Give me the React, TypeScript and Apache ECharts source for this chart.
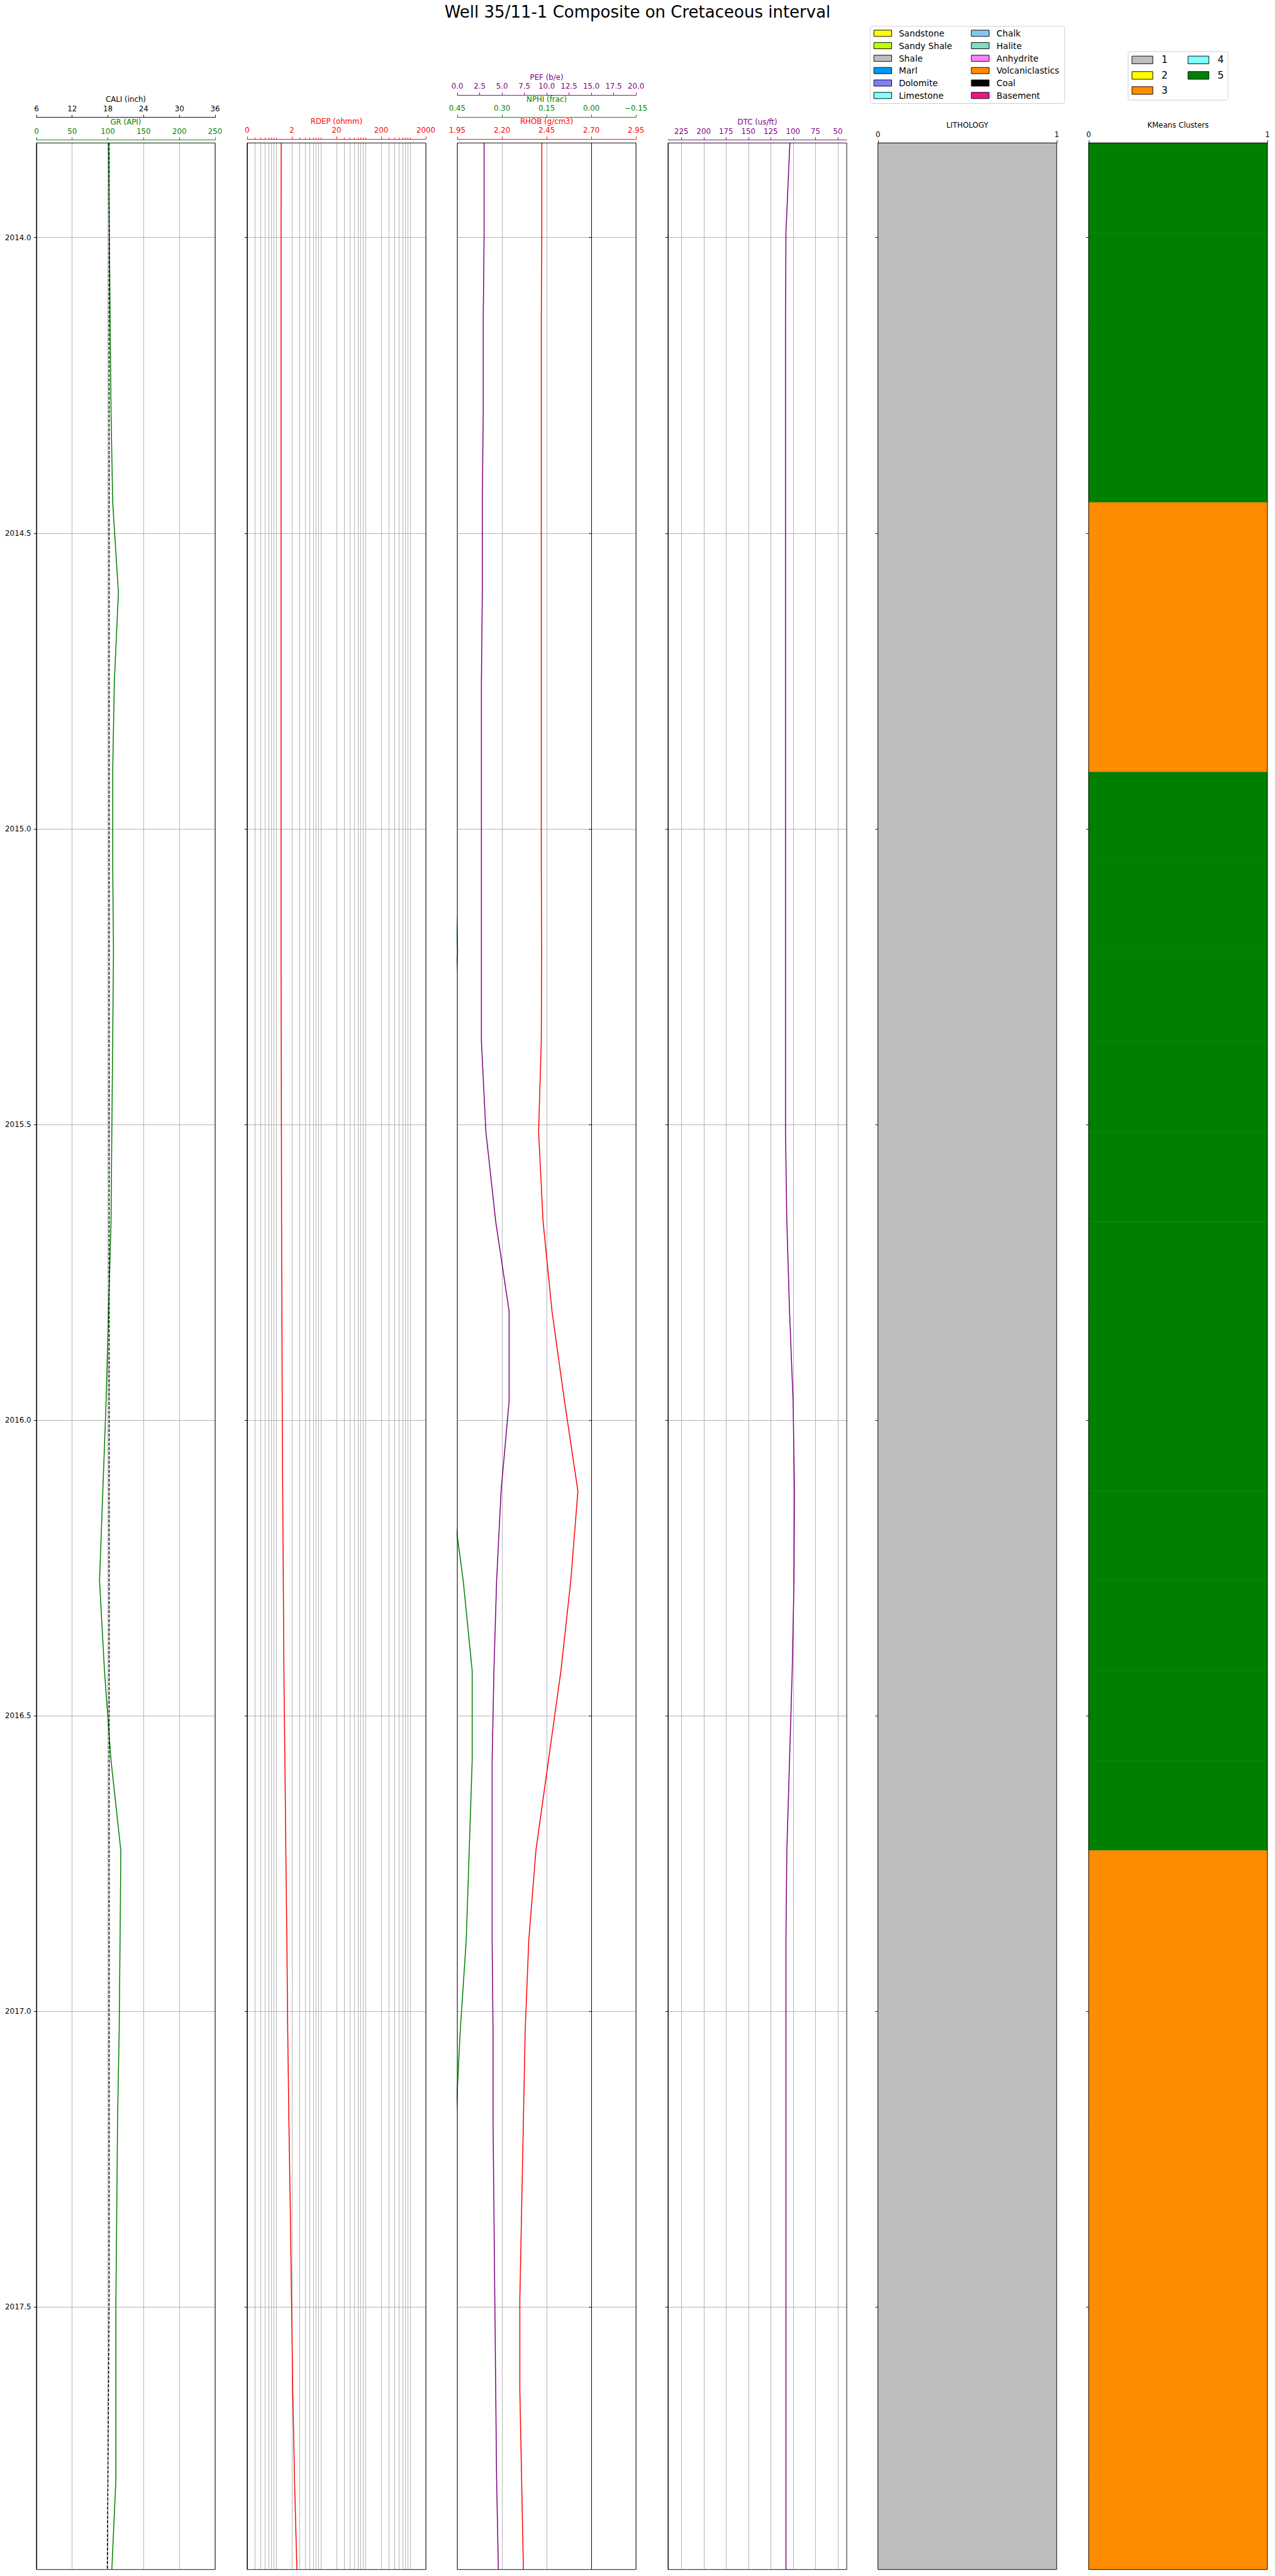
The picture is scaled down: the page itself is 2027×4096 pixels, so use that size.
import React, { useEffect, useRef } from "react";
import * as echarts from "echarts";

// ---------------- DATA ----------------
const DEPTH = [
  2013.84, 2013.992, 2014.144, 2014.296, 2014.448, 2014.6, 2014.752, 2014.904,
  2015.056, 2015.208, 2015.36, 2015.512, 2015.664, 2015.816, 2015.968, 2016.12,
  2016.272, 2016.424, 2016.576, 2016.728, 2016.88, 2017.032, 2017.184, 2017.336,
  2017.488, 2017.64, 2017.792, 2017.944,
];
const GR = [
  100.9, 102.0, 103.2, 104.4, 106.7, 114.7, 109.0, 106.7, 106.7, 107.8, 106.7, 105.5,
  104.4, 100.9, 97.5, 92.9, 88.3, 95.2, 104.4, 118.1, 117.0, 115.8, 113.5, 112.4,
  111.2, 111.2, 111.2, 105.5,
];
const CALI = [
  18.2, 18.2, 18.2, 18.2, 18.2, 18.2, 18.2, 18.2, 18.2, 18.2, 18.2, 18.2,
  18.2, 18.2, 18.2, 18.2, 18.2, 18.2, 18.2, 18.2, 18.2, 18.2, 18.2, 18.2,
  18.2, 18.1, 18.0, 17.9,
];
const RDEP = [
  1.16, 1.15, 1.15, 1.15, 1.15, 1.15, 1.15, 1.15, 1.15, 1.15, 1.16, 1.17,
  1.18, 1.2, 1.22, 1.25, 1.29, 1.33, 1.4, 1.47, 1.55, 1.62, 1.72, 1.85,
  1.97, 2.1, 2.3, 2.6,
];
const RHOB = [
  2.423, 2.423, 2.42, 2.42, 2.42, 2.42, 2.42, 2.42, 2.42, 2.422, 2.42, 2.405,
  2.43, 2.48, 2.55, 2.625, 2.585, 2.53, 2.46, 2.39, 2.35, 2.33, 2.32, 2.31,
  2.3, 2.3, 2.31, 2.32,
];
const NPHI = [
  0.48, 0.48, 0.48, 0.48, 0.48, 0.48, 0.48, 0.47, 0.46, 0.449, 0.47, 0.48,
  0.48, 0.48, 0.48, 0.47, 0.43, 0.4, 0.4, 0.41, 0.42, 0.44, 0.455, 0.47,
  0.48, 0.48, 0.48, 0.48,
];
const PEF = [
  3.0, 3.0, 2.9, 2.9, 2.8, 2.8, 2.7, 2.7, 2.7, 2.7, 2.7, 3.2,
  4.3, 5.8, 5.8, 4.9, 4.4, 4.1, 3.9, 3.9, 3.9, 4.0, 4.0, 4.1,
  4.2, 4.3, 4.4, 4.6,
];
const DTC = [
  103.6, 108.0, 108.5, 108.5, 108.5, 108.5, 108.5, 108.5, 108.5, 108.5, 108.5, 108.5,
  107.0, 104.0, 100.0, 98.5, 99.0, 101.0, 104.0, 107.0, 108.0, 108.0, 108.0, 108.0,
  108.0, 108.0, 108.0, 108.0,
];
const LITHOLOGY = [
  "Shale", "Shale", "Shale", "Shale", "Shale", "Shale", "Shale", "Shale",
  "Shale", "Shale", "Shale", "Shale", "Shale", "Shale", "Shale", "Shale",
  "Shale", "Shale", "Shale", "Shale", "Shale", "Shale", "Shale", "Shale",
  "Shale", "Shale", "Shale", "Shale",
];
const KMEANS = [
  5, 5, 5, 5, 3, 3, 3, 5, 5, 5, 5, 5, 5, 5, 5, 5, 5, 5, 5, 3, 3, 3, 3, 3, 3, 3, 3, 3,
];

const DEPTH_TICKS = [2014.0, 2014.5, 2015.0, 2015.5, 2016.0, 2016.5, 2017.0, 2017.5];
const GR_TICKS = [0, 50, 100, 150, 200, 250];
const CALI_TICKS = [6, 12, 18, 24, 30, 36];
const RDEP_TICKS = [0.2, 2, 20, 200, 2000];
const RHOB_TICKS = [1.95, 2.2, 2.45, 2.7, 2.95];
const NPHI_TICKS = [0.45, 0.3, 0.15, 0, -0.15];
const PEF_TICKS = [0, 2.5, 5, 7.5, 10, 12.5, 15, 17.5, 20];
const DTC_TICKS = [225, 200, 175, 150, 125, 100, 75, 50];
const UNIT_TICKS = [0, 1];

const LITH_NAMES = [
  "Sandstone", "Sandy Shale", "Shale", "Marl", "Dolomite", "Limestone",
  "Chalk", "Halite", "Anhydrite", "Volcaniclastics", "Coal", "Basement",
];
const LITH_COLORS = [
  "#ffff00", "#c0ff00", "#bebebe", "#0099ee", "#8080ff", "#80ffff",
  "#80c8f0", "#7ddfbe", "#ff80ff", "#ff8c00", "#000000", "#ef138a",
];
const CLUSTER_NAMES = ["1", "2", "3", "4", "5"];
const CLUSTER_COLORS = ["#bebebe", "#ffff00", "#ff8c00", "#80ffff", "#008000"];

// ---------------- LAYOUT ----------------
const FONT = "DejaVu Sans";
const TRACK_LEFT = [57.9, 392.9, 727.0, 1062.0, 1395.8, 1730.8];
const TRACK_W = 284.1;
const TOP = 227.3;
const HEIGHT = 3858.4;
const FS = 11.8;
const GRID_GRAY = "#b0b0b0";
const GREEN = "#008000";
const RED = "#ff0000";
const PURPLE = "#800080";

function fmtNphi(v: number) {
  const r = Math.abs(v) < 1e-9 ? 0 : v;
  const s = r.toFixed(2);
  return s.replace("-", "\u2212");
}

function topAxis(grid: number, o: any) {
  const color = o.color;
  return {
    type: o.type || "value",
    gridIndex: grid,
    position: "top",
    offset: o.offset,
    min: o.min,
    max: o.max,
    inverse: !!o.inverse,
    logBase: o.logBase,
    name: o.name,
    nameLocation: "middle",
    nameGap: 22.3,
    nameMoveOverlap: false,
    nameTextStyle: { color, fontFamily: FONT, fontSize: FS },
    axisLine: { show: o.line !== false, lineStyle: { color, width: 0.94 } },
    axisTick: {
      show: true,
      customValues: o.ticks,
      length: o.tickLen || 4.1,
      lineStyle: { color, width: 0.94 },
    },
    axisLabel: {
      show: o.labels !== false,
      customValues: o.ticks,
      margin: 7.8,
      color,
      fontFamily: FONT,
      fontSize: FS,
      formatter: o.fmt,
    },
    splitLine: {
      show: !!o.split,
      lineStyle: { color: GRID_GRAY, width: 0.94 },
    },
  };
}

export default function App() {
  const ref = useRef<HTMLDivElement>(null);
  useEffect(() => {
    if (!ref.current) return;
    const chart = echarts.init(ref.current, undefined, { renderer: "svg" });

    const grids = TRACK_LEFT.map((l) => ({
      left: l,
      top: TOP,
      width: TRACK_W,
      height: HEIGHT,
      show: true,
      z: 10,
      backgroundColor: "transparent",
      borderColor: "#000",
      borderWidth: 0.94,
    }));

    const yAxes = TRACK_LEFT.map((_, i) => ({
      type: "value",
      gridIndex: i,
      inverse: true,
      min: DEPTH[0],
      max: DEPTH[DEPTH.length - 1],
      axisLine: { show: true, lineStyle: { color: "#000", width: 0.94 } },
      axisTick: { show: true, customValues: DEPTH_TICKS, length: 4.1, lineStyle: { color: "#000", width: 0.94 } },
      axisLabel: {
        show: i === 0,
        customValues: DEPTH_TICKS,
        margin: 8.5,
        color: "#000",
        fontFamily: FONT,
        fontSize: FS,
        formatter: (v: number) => v.toFixed(1),
      },
      splitLine: { show: i < 4, lineStyle: { color: GRID_GRAY, width: 0.94 } },
    }));

    const minorRdep: number[] = [];
    [0.1, 1, 10, 100].forEach((dec) => {
      for (let m = 3; m <= 9; m++) minorRdep.push(+(m * dec).toPrecision(3));
    });

    const xAxes = [
      topAxis(0, { name: "GR (API)", color: GREEN, offset: 4.9, min: 0, max: 250, ticks: GR_TICKS, split: true, fmt: (v: number) => String(v) }),
      topAxis(0, { name: "CALI (inch)", color: "#000", offset: 40.7, min: 6, max: 36, ticks: CALI_TICKS, fmt: (v: number) => String(v) }),
      topAxis(1, {
        type: "log", logBase: 10, name: "RDEP (ohmm)", color: RED, offset: 6.2, min: 0.2, max: 2000,
        ticks: RDEP_TICKS, split: true,
        fmt: (v: number) => (v < 1 ? "0" : String(Math.round(v))),
      }),
      topAxis(1, {
        type: "log", logBase: 10, color: RED, offset: 6.2, min: 0.2, max: 2000,
        ticks: minorRdep, split: true, line: false, labels: false, tickLen: 2.4,
      }),
      topAxis(2, { name: "RHOB (g/cm3)", color: RED, offset: 6.2, min: 1.95, max: 2.95, ticks: RHOB_TICKS, split: true, fmt: (v: number) => v.toFixed(2) }),
      topAxis(2, { name: "NPHI (frac)", color: GREEN, offset: 41.3, min: -0.15, max: 0.45, inverse: true, ticks: NPHI_TICKS, fmt: fmtNphi }),
      topAxis(2, { name: "PEF (b/e)", color: PURPLE, offset: 76.1, min: 0, max: 20, ticks: PEF_TICKS, fmt: (v: number) => v.toFixed(1) }),
      topAxis(3, { name: "DTC (us/ft)", color: PURPLE, offset: 4.9, min: 40, max: 240, inverse: true, ticks: DTC_TICKS, split: true, fmt: (v: number) => String(v) }),
      topAxis(4, { name: "LITHOLOGY", color: "#000", offset: 0, min: 0, max: 1, ticks: UNIT_TICKS, fmt: (v: number) => String(v) }),
      topAxis(5, { name: "KMeans Clusters", color: "#000", offset: 0, min: 0, max: 1, ticks: UNIT_TICKS, fmt: (v: number) => String(v) }),
    ];

    const curve = (xi: number, yi: number, vals: number[], color: string, dashed?: boolean) => ({
      type: "line",
      xAxisIndex: xi,
      yAxisIndex: yi,
      data: vals.map((v, i) => [v, DEPTH[i]]),
      showSymbol: false,
      symbol: "none",
      clip: true,
      silent: true,
      lineStyle: { color, width: 1.5, type: dashed ? [5, 2.2] : "solid" },
      z: 3,
    });

    const blocks = (xi: number, yi: number, colorOf: (i: number) => string) => ({
      type: "custom",
      xAxisIndex: xi,
      yAxisIndex: yi,
      silent: true,
      data: DEPTH.slice(0, -1).map((d, i) => [0, d, DEPTH[i + 1], i]),
      encode: { x: 0, y: [1, 2] },
      renderItem: (params: any, api: any) => {
        const p0 = api.coord([0, api.value(1)]);
        const p1 = api.coord([1, api.value(2)]);
        const c = colorOf(api.value(3));
        return {
          type: "rect",
          shape: { x: p0[0], y: p0[1], width: p1[0] - p0[0], height: p1[1] - p0[1] },
          style: { fill: c, stroke: c, lineWidth: 0.6 },
        };
      },
      z: 2,
    });

    const lithColor = (i: number) => LITH_COLORS[LITH_NAMES.indexOf(LITHOLOGY[i])];
    const clusterColor = (i: number) => CLUSTER_COLORS[KMEANS[i] - 1];

    const graphics: any[] = [];
    graphics.push({
      type: "text",
      x: 1013.5,
      y: 18.7,
      style: {
        text: "Well 35/11-1 Composite on Cretaceous interval",
        fontFamily: FONT,
        fontSize: 26.0,
        fill: "#000",
        align: "center",
        verticalAlign: "middle",
      },
    });
    graphics.push({
      type: "rect",
      shape: { x: 1383.7, y: 41.8, width: 308.9, height: 122.7, r: 3 },
      style: { fill: "rgba(255,255,255,0.8)", stroke: "#cccccc", lineWidth: 0.94 },
    });
    const lithRowY = [52.9, 72.6, 92.7, 112.2, 132.0, 151.8];
    LITH_NAMES.forEach((n, i) => {
      const col = Math.floor(i / 6);
      const row = i % 6;
      const px = col === 0 ? 1389.3 : 1544.2;
      const tx = col === 0 ? 1428.9 : 1584.3;
      graphics.push({
        type: "rect",
        shape: { x: px, y: lithRowY[row] - 4.95, width: 28.3, height: 9.9 },
        style: { fill: LITH_COLORS[i], stroke: "#000", lineWidth: 0.94 },
      });
      graphics.push({
        type: "text",
        x: tx,
        y: lithRowY[row],
        style: { text: n, fontFamily: FONT, fontSize: 13.7, fill: "#000", verticalAlign: "middle" },
      });
    });
    graphics.push({
      type: "rect",
      shape: { x: 1793.5, y: 82.0, width: 158.6, height: 77.2, r: 3 },
      style: { fill: "rgba(255,255,255,0.8)", stroke: "#cccccc", lineWidth: 0.94 },
    });
    const cRowY = [95.3, 119.9, 143.9];
    CLUSTER_NAMES.forEach((n, i) => {
      const col = i < 3 ? 0 : 1;
      const row = i < 3 ? i : i - 3;
      const px = col === 0 ? 1799.7 : 1888.8;
      const tx = col === 0 ? 1846.4 : 1935.7;
      graphics.push({
        type: "rect",
        shape: { x: px, y: cRowY[row] - 6.1, width: 33.1, height: 12.2 },
        style: { fill: CLUSTER_COLORS[i], stroke: "#000", lineWidth: 0.94 },
      });
      graphics.push({
        type: "text",
        x: tx,
        y: cRowY[row],
        style: { text: n, fontFamily: FONT, fontSize: 15.5, fill: "#000", verticalAlign: "middle" },
      });
    });

    chart.setOption({
      animation: false,
      textStyle: { fontFamily: FONT },
      grid: grids,
      xAxis: xAxes,
      yAxis: yAxes,
      series: [
        curve(0, 0, GR, GREEN),
        curve(1, 0, CALI, "#000", true),
        curve(2, 1, RDEP, RED),
        curve(4, 2, RHOB, RED),
        curve(5, 2, NPHI, GREEN),
        curve(6, 2, PEF, PURPLE),
        curve(7, 3, DTC, PURPLE),
        blocks(8, 4, lithColor),
        blocks(9, 5, clusterColor),
      ],
      graphic: graphics,
    });
    return () => chart.dispose();
  }, []);

  return (
    <div
      ref={ref}
      style={{ position: "absolute", left: 0, top: 0, width: 2027, height: 4096, background: "#fff" }}
    />
  );
}
